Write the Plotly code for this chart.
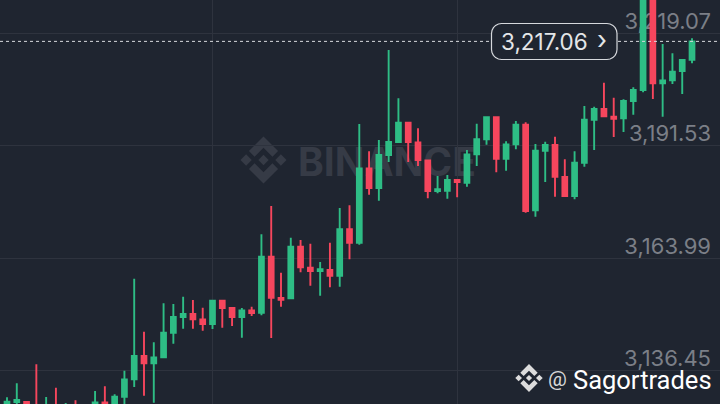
import plotly.graph_objects as go
import math

W, H = 720, 404

# OHLC values
opens = [3127.72,3128.70,3128.70,3127.72,3126.25,3127.30,3126.00,3127.50,3126.60,3127.97,
 3128.63,3127.72,3130.00,3134.26,3139.97,3138.18,3139.65,3145.68,3149.53,3150.26,
 3148.96,3147.81,3153.52,3151.73,3149.53,3151.17,3150.58,3164.30,3154.18,3154.11,
 3166.75,3161.61,3160.80,3161.04,3159.65,3171.02,3167.73,3185.96,3181.14,3189.22,
 3192.41,3197.14,3192.33,3187.92,3180.40,3180.47,3183.10,3182.43,3189.39,3193.07,
 3198.46,3188.32,3191.84,3196.65,3175.67,3190.28,3191.67,3183.83,3179.18,3187.34,
 3197.87,3200.49,3198.61,3198.21,3202.45,3205.15,3232.10,3206.79,3207.52,3209.80,3212.57]
highs = [3129.85,3133.28,3128.90,3137.94,3129.93,3132.21,3128.46,3129.12,3127.90,3131.40,
 3132.55,3130.59,3136.37,3158.91,3145.93,3143.33,3152.88,3152.71,3154.50,3153.69,
 3151.81,3153.60,3153.60,3151.80,3151.73,3152.05,3169.79,3176.73,3160.38,3168.96,
 3168.40,3167.49,3163.00,3167.73,3176.24,3176.90,3196.82,3190.13,3192.90,3214.95,
 3203.11,3197.20,3195.76,3188.00,3184.08,3184.32,3183.15,3190.45,3196.89,3198.50,
 3198.50,3192.58,3197.55,3197.23,3191.92,3192.48,3193.71,3188.17,3190.13,3201.23,
 3201.06,3206.94,3203.26,3202.87,3205.81,3235.00,3233.00,3216.42,3214.14,3212.60,3217.82]
lows = [3126.74,3127.23,3126.50,3125.60,3125.80,3125.00,3125.50,3125.60,3125.90,3127.20,
 3127.00,3127.20,3127.72,3132.38,3130.25,3128.53,3139.48,3142.99,3146.66,3146.66,
 3146.17,3146.59,3146.91,3147.32,3144.46,3149.77,3149.95,3144.38,3152.05,3154.00,
 3160.48,3157.20,3154.75,3156.81,3156.95,3163.67,3167.24,3179.49,3178.02,3187.51,
 3192.30,3187.51,3186.53,3178.61,3179.84,3178.52,3178.86,3181.45,3186.53,3191.75,
 3184.98,3185.38,3190.62,3175.08,3174.10,3182.61,3179.00,3179.10,3178.37,3186.36,
 3190.45,3198.60,3193.63,3194.86,3199.10,3204.58,3202.94,3198.61,3206.62,3204.17,3211.69]
closes = [3128.78,3129.19,3127.00,3126.50,3127.48,3126.00,3127.50,3126.60,3127.40,3128.63,
 3127.72,3130.00,3134.26,3139.97,3138.18,3139.65,3145.68,3149.53,3150.26,3148.96,
 3147.81,3153.52,3151.73,3149.53,3151.17,3150.51,3164.30,3154.26,3153.77,3166.75,
 3161.71,3160.80,3161.22,3159.65,3171.02,3167.73,3185.96,3181.14,3189.22,3192.41,
 3197.14,3192.41,3188.00,3180.40,3180.82,3183.10,3182.61,3189.39,3193.07,3198.46,
 3188.32,3191.84,3196.65,3175.50,3190.28,3191.67,3183.90,3179.18,3187.34,3197.87,
 3200.49,3198.70,3198.12,3202.45,3205.15,3232.10,3206.79,3207.52,3209.63,3212.50,3217.06]
price_ticks = [3219.07, 3191.53, 3163.99, 3136.45]
price_labels = ["3,219.07", "3,191.53", "3,163.99", "3,136.45"]
last_price = 3217.06
last_label = "3,217.06"
handle = "Sagortrades"
watermark = "BINANCE"

BG = "#1f2530"
GRID = "#2e333e"
GREEN = "#2ebd85"
RED = "#f6465d"
MARK = "#363b46"

def px(x): return x / W
def py(y): return 1 - y / H

def logo_paths(cx, cy, r):
    polys = [
        [(0, -.22), (.22, 0), (0, .22), (-.22, 0)],
        [(-.74, -.24), (-.5, 0), (-.74, .24), (-.98, 0)],
        [(.74, -.24), (.98, 0), (.74, .24), (.5, 0)],
        [(0, -1), (.62, -.38), (.38, -.14), (0, -.52), (-.38, -.14), (-.62, -.38)],
        [(0, 1), (.62, .38), (.38, .14), (0, .52), (-.38, .14), (-.62, .38)],
    ]
    out = []
    for p in polys:
        pts = [f"{px(cx + a * r):.5f},{py(cy + b * r):.5f}" for a, b in p]
        out.append("M" + " L".join(pts) + " Z")
    return out

def rounded(x0, y0, x1, y1, r):
    n = 5
    pts = []
    for cx, cy, a0 in [(x1 - r, y0 + r, -90), (x1 - r, y1 - r, 0), (x0 + r, y1 - r, 90), (x0 + r, y0 + r, 180)]:
        for i in range(n + 1):
            a = math.radians(a0 + 90 * i / n)
            pts.append(f"{px(cx + r * math.cos(a)):.5f},{py(cy + r * math.sin(a)):.5f}")
    return "M" + " L".join(pts) + " Z"

fig = go.Figure(go.Candlestick(
    x=list(range(len(opens))), open=opens, high=highs, low=lows, close=closes,
    increasing=dict(line=dict(color=GREEN, width=1.9), fillcolor=GREEN),
    decreasing=dict(line=dict(color=RED, width=1.9), fillcolor=RED),
    whiskerwidth=0, hoverinfo="skip", showlegend=False,
))

shapes = []
for d in logo_paths(263.5, 160, 23.5):
    shapes.append(dict(type="path", xref="paper", yref="paper", path=d, layer="below",
                       fillcolor=MARK, line=dict(width=0)))
shapes.append(dict(type="rect", xref="paper", yref="paper", x0=px(295), x1=px(490), y0=py(178), y1=py(142),
                   layer="below", line=dict(width=0), fillcolor="rgba(0,0,0,0)",
                   label=dict(text=watermark, textposition="middle left", padding=0,
                              font=dict(family="Inter, Roboto", size=39, color=MARK, weight=700))))
shapes.append(dict(type="line", xref="paper", x0=0, x1=1, yref="y", y0=last_price, y1=last_price,
                   line=dict(color="#d8dadd", width=1, dash="3px 3px"), layer="above"))
shapes.append(dict(type="path", xref="paper", yref="paper", path=rounded(491.5, 23.5, 617, 59.5, 10),
                   fillcolor=BG, line=dict(color="#d5d8dc", width=1.2), layer="above"))
for d in logo_paths(529, 378, 14):
    shapes.append(dict(type="path", xref="paper", yref="paper", path=d, layer="above",
                       fillcolor="#dcdcdc", line=dict(width=0)))

annotations = [
    dict(xref="paper", yref="paper", x=px(499), y=py(42), xanchor="left", yanchor="middle", showarrow=False,
         text=last_label, font=dict(family="Inter, Roboto", size=22.5, color="#e4e6e8")),
    dict(xref="paper", yref="paper", x=px(602), y=py(40), xanchor="center", yanchor="middle", showarrow=False,
         text="›", font=dict(family="Inter, Roboto", size=26, color="#e4e6e8")),
    dict(xref="paper", yref="paper", x=px(546), y=py(379), xanchor="left", yanchor="middle", showarrow=False,
         text="@", font=dict(family="Roboto", size=21, color="#d8d8d8")),
    dict(xref="paper", yref="paper", x=px(714), y=py(380), xanchor="right", yanchor="middle", showarrow=False,
         text=handle, font=dict(family="Roboto", size=25.5, color="#ffffff")),
]

fig.update_layout(
    width=W, height=H, margin=dict(l=0, r=0, t=0, b=0), autosize=False,
    paper_bgcolor=BG, plot_bgcolor=BG, boxgap=0.3, shapes=shapes, annotations=annotations,
    xaxis=dict(range=[-0.715, 72.86], tick0=21, dtick=25, showgrid=True, gridcolor=GRID, gridwidth=1,
               showticklabels=False, zeroline=False, showline=False, ticks="",
               rangeslider=dict(visible=False), fixedrange=True),
    yaxis=dict(range=[3128.22, 3227.20], side="right", tickmode="array", tickvals=price_ticks, ticktext=price_labels,
               ticklabelposition="inside", ticklabelshift=-12, ticklabelstandoff=6, layer="below traces",
               tickfont=dict(family="Inter, Roboto", size=22, color="#7b7f87"),
               showgrid=True, gridcolor=GRID, gridwidth=1, zeroline=False, showline=False, ticks="", fixedrange=True),
)
fig.write_html("out.html", config=dict(displayModeBar=False),
               post_script="document.body.style.margin='0';document.documentElement.style.overflow='hidden';")
